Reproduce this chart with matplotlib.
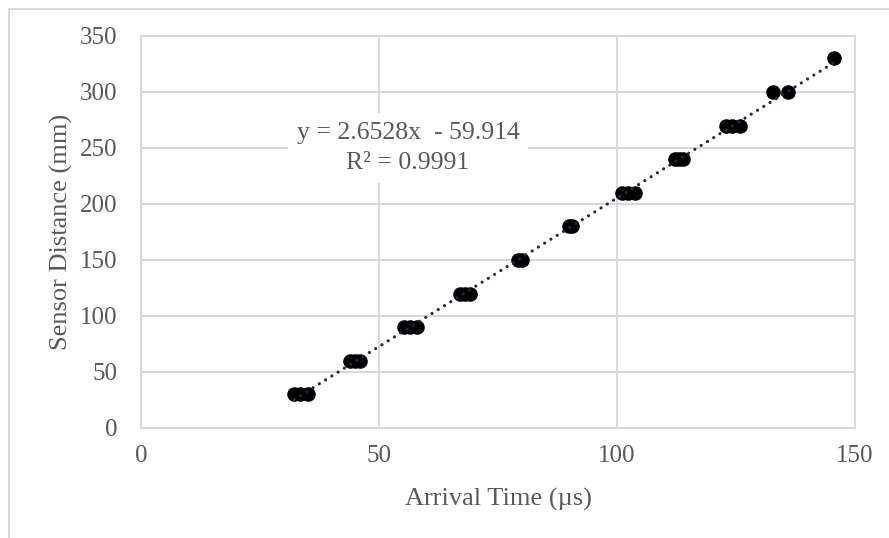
import matplotlib
matplotlib.use("Agg")
import matplotlib.pyplot as plt
from matplotlib.patches import Rectangle
import numpy as np

# Measured arrival times (µs) and sensor distances (mm)
arrival_time = [32.2, 33.5, 35.0,
                44.0, 45.0, 46.0,
                55.3, 56.5, 57.9,
                67.0, 68.0, 69.1,
                79.2, 80.0,
                90.0, 90.6,
                101.0, 102.4, 103.8,
                112.2, 113.0, 113.8,
                123.0, 124.2, 125.8,
                132.8, 135.9,
                145.6]
sensor_distance = [30, 30, 30,
                   60, 60, 60,
                   90, 90, 90,
                   120, 120, 120,
                   150, 150,
                   180, 180,
                   210, 210, 210,
                   240, 240, 240,
                   270, 270, 270,
                   300, 300,
                   330]

# Linear trendline as reported
slope = 2.6528
intercept = -59.914
r_squared = 0.9991

x_ticks = [0, 50, 100, 150]
y_ticks = [0, 50, 100, 150, 200, 250, 300, 350]

TXT = "#595959"
GRID = "#d9d9d9"
plt.rcParams["font.family"] = ["Liberation Serif", "DejaVu Serif"]

fig = plt.figure(figsize=(8.89, 5.38), dpi=100)
ax = fig.add_axes([141 / 889, 1 - 428 / 538, 714 / 889, 392 / 538])

# Outer chart frame
fig.add_artist(Rectangle((9 / 889, -0.1), 1.2, 1 - 9 / 538 + 0.1,
                         transform=fig.transFigure, fill=False,
                         edgecolor=GRID, linewidth=1.4))

ax.set_xlim(0, 150)
ax.set_ylim(0, 350)
ax.set_xticks(x_ticks)
ax.set_yticks(y_ticks)
ax.grid(True, color=GRID, linewidth=1.5)
ax.set_axisbelow(True)
for s in ax.spines.values():
    s.set_color(GRID)
    s.set_linewidth(1.5)
ax.tick_params(length=0, labelsize=18, colors=TXT)
ax.tick_params(axis="x", pad=12)
ax.tick_params(axis="y", pad=17)

ax.scatter(arrival_time, sensor_distance, s=110, color="black", zorder=3,
           linewidths=0)

xt = np.array([min(arrival_time), max(arrival_time)])
ax.plot(xt, slope * xt + intercept, color="#1f2a44", linewidth=2.3,
        linestyle=(0, (0.01, 2.3)), dash_capstyle="round", zorder=4)

sign = "-" if intercept < 0 else "+"
ax.text(56.1, 250,
        f"y = {slope:.4f}x  {sign} {abs(intercept):.3f}\nR² = {r_squared:.4f}",
        ha="center", va="center", fontsize=18.5, color=TXT,
        linespacing=1.45, zorder=5,
        bbox=dict(boxstyle="square,pad=0.35", facecolor="white",
                  edgecolor="none"))

ax.set_xlabel("Arrival Time (µs)", fontsize=19, color=TXT, labelpad=15)
ax.set_ylabel("Sensor Distance (mm)", fontsize=19, color=TXT, labelpad=5)

fig.savefig("out.png", dpi=100)
